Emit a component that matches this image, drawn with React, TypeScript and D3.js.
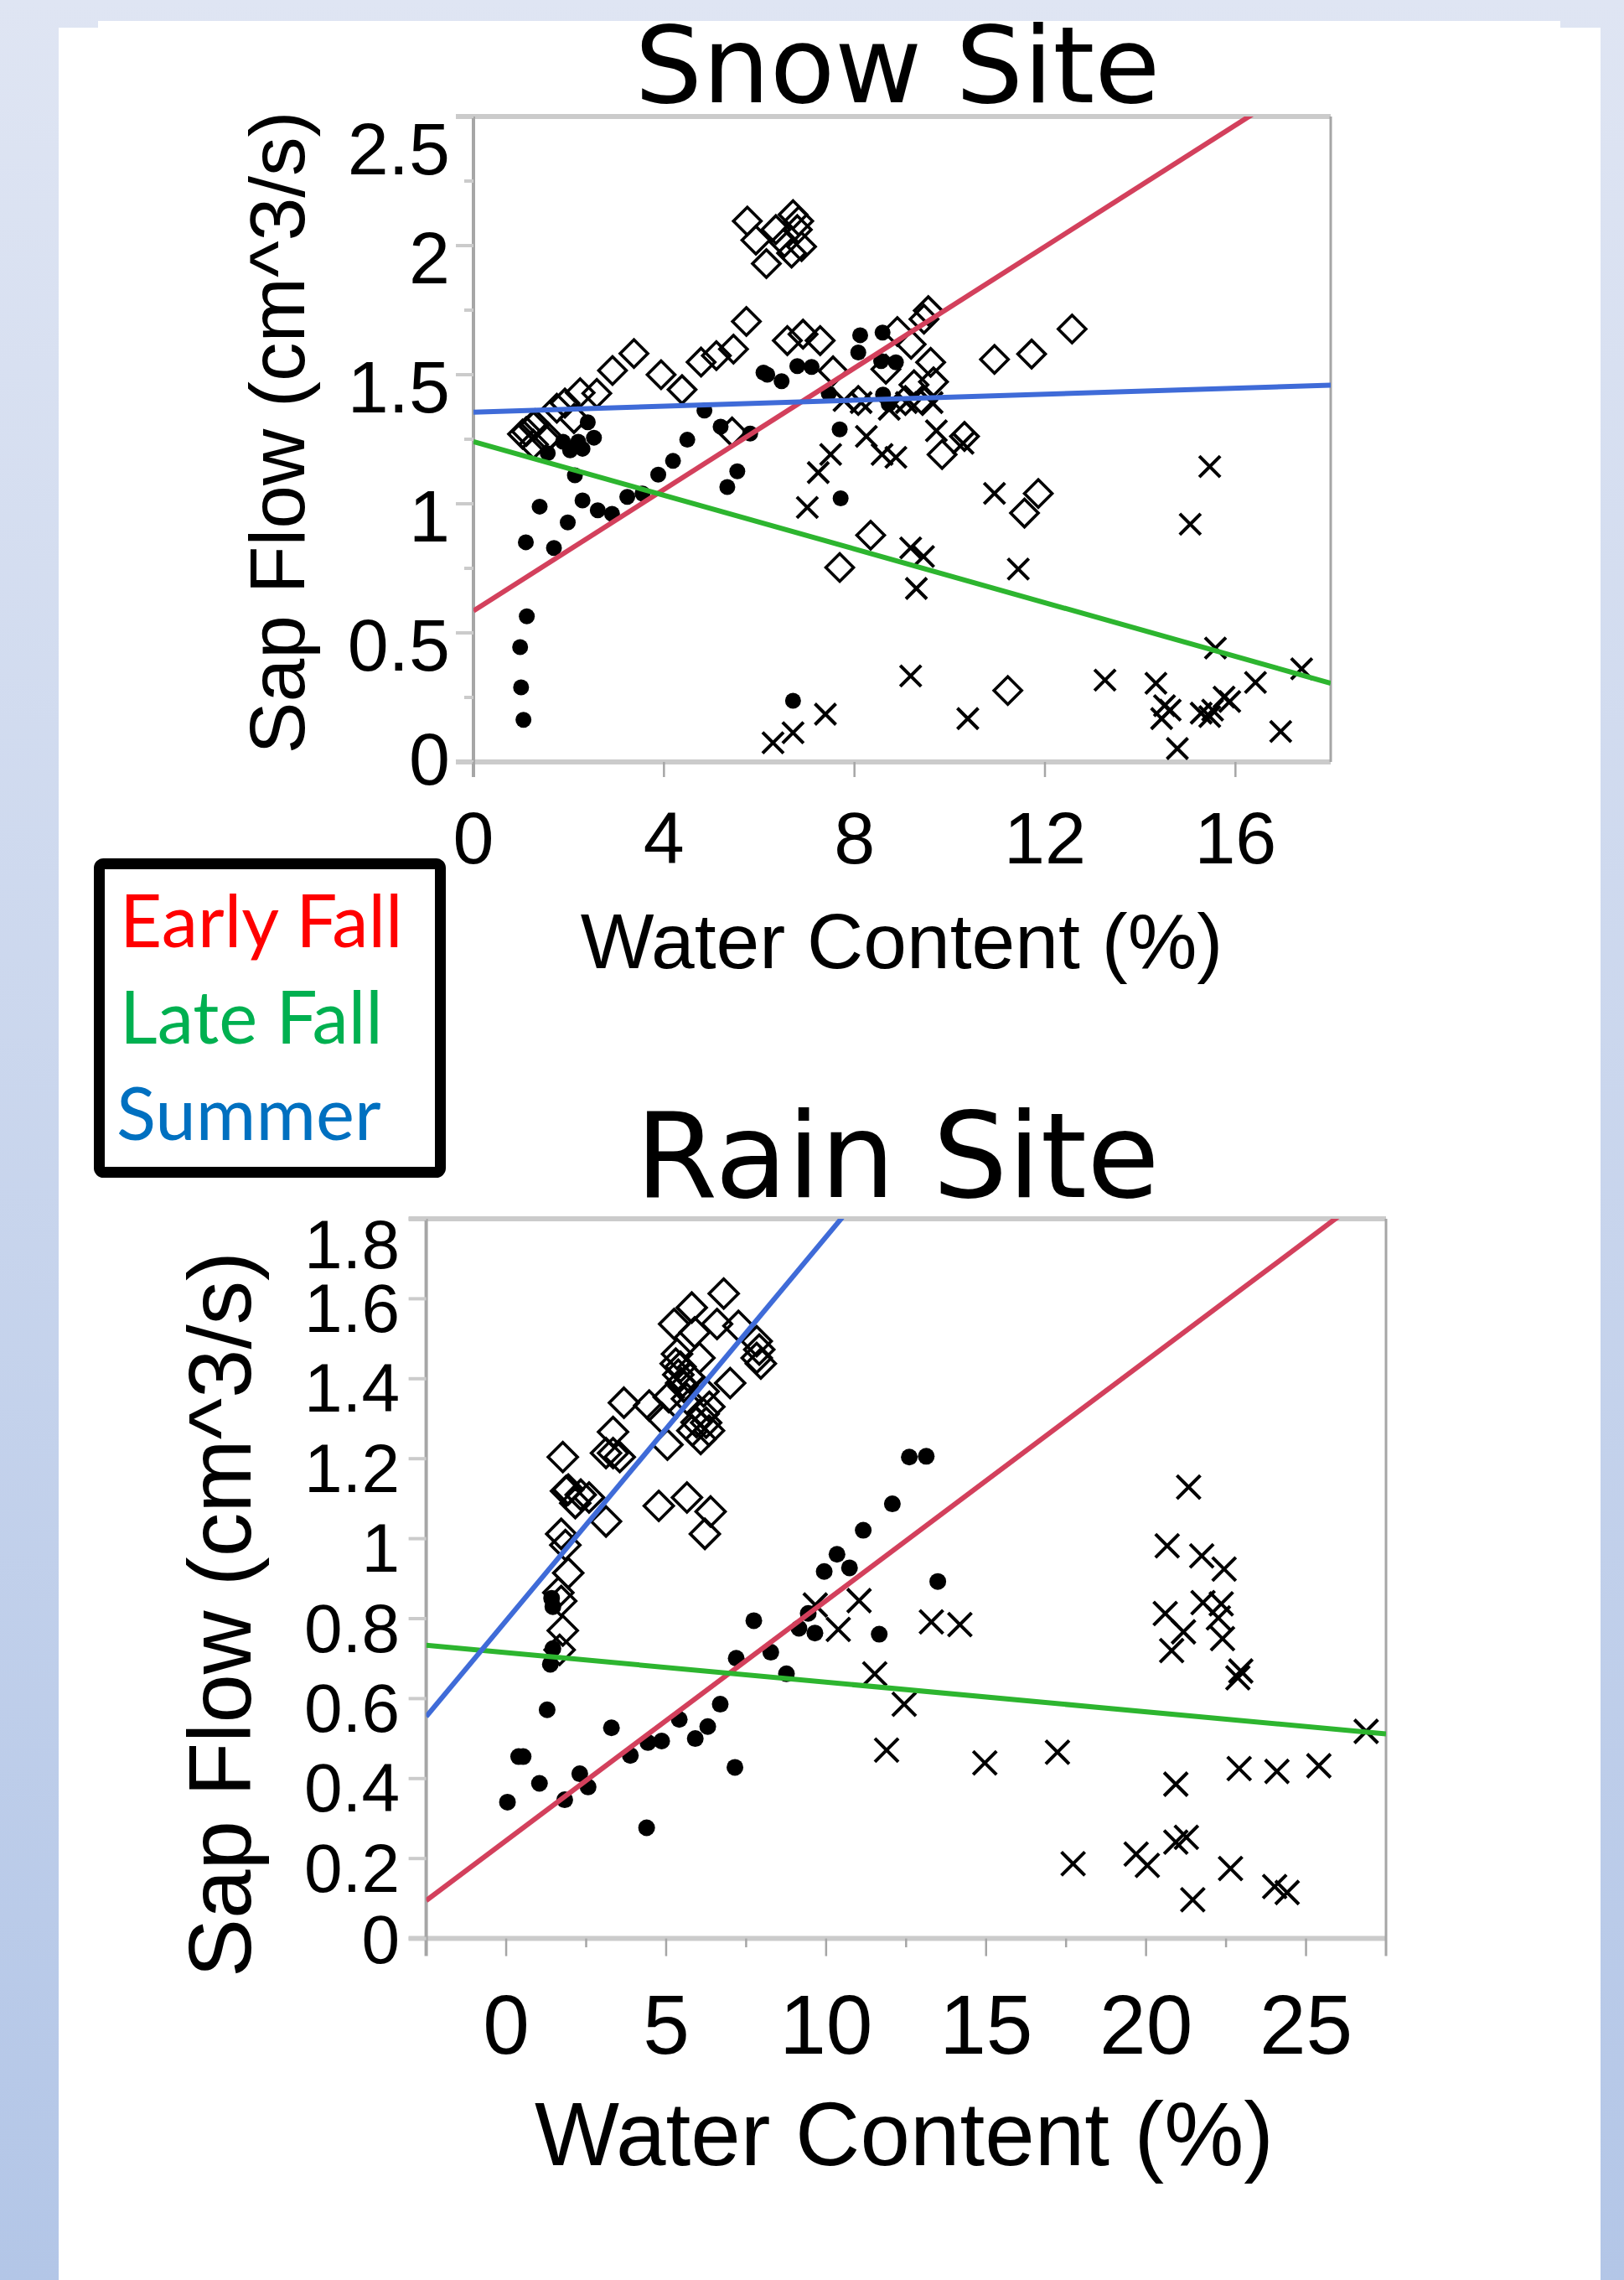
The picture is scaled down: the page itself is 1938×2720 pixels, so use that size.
import React from 'react';
import * as d3 from 'd3';

// Snow Site: [water content (%), sap flow (cm^3/s)]
const snowEarlyFall = [
  [1.05, 0.163], [1.0, 0.289], [0.98, 0.445], [1.12, 0.564], [1.10, 0.851], [1.69, 0.829],
  [1.39, 0.989], [1.98, 0.928], [2.29, 1.013], [2.61, 0.975], [2.91, 0.961], [3.23, 1.027],
  [3.55, 1.040], [3.88, 1.113], [4.19, 1.166], [4.49, 1.248], [4.85, 1.361], [5.19, 1.299],
  [5.54, 1.126], [5.33, 1.065], [5.81, 1.272], [7.69, 1.288], [7.71, 1.021], [7.46, 1.428],
  [2.13, 1.110], [2.40, 1.316], [2.53, 1.256], [2.20, 1.240], [2.03, 1.207], [1.56, 1.196],
  [1.88, 1.240], [2.29, 1.213], [6.09, 1.508], [6.17, 1.50], [6.47, 1.475], [6.80, 1.533],
  [7.10, 1.530], [8.12, 1.653], [8.59, 1.663], [8.08, 1.586], [8.56, 1.553], [8.87, 1.548],
  [8.60, 1.423], [8.72, 1.386], [6.71, 0.237],
];
const snowLateFall = [
  [6.29, 0.074], [6.71, 0.113], [7.39, 0.185], [9.18, 0.333], [10.38, 0.168], [13.26, 0.317],
  [14.33, 0.305], [14.51, 0.218], [14.63, 0.201], [14.45, 0.168], [14.78, 0.052], [15.28, 0.189],
  [15.46, 0.176], [15.52, 0.201], [15.76, 0.251], [15.88, 0.234], [16.42, 0.308], [16.95, 0.118],
  [17.39, 0.361], [15.58, 0.441], [15.05, 0.921], [15.46, 1.144], [11.44, 0.747], [10.94, 1.040],
  [9.18, 0.829], [9.45, 0.796], [9.30, 0.672], [7.01, 0.986], [7.24, 1.121], [7.50, 1.191],
  [8.25, 1.261], [8.58, 1.191], [8.87, 1.180], [9.72, 1.283], [10.28, 1.234], [7.78, 1.400],
  [8.14, 1.392], [8.73, 1.366], [9.09, 1.392], [9.63, 1.392],
];
const snowSummer = [
  [1.03, 1.27], [1.11, 1.28], [1.26, 1.30], [1.29, 1.31], [1.52, 1.25], [1.26, 1.23],
  [1.56, 1.26], [1.75, 1.37], [1.92, 1.39], [2.11, 1.33], [2.24, 1.43], [2.59, 1.428],
  [2.92, 1.516], [3.37, 1.582], [3.94, 1.50], [4.38, 1.442], [4.78, 1.549], [5.10, 1.574],
  [5.46, 1.599], [5.73, 1.706], [5.43, 1.278], [6.59, 1.632], [6.92, 1.657], [7.28, 1.632],
  [7.55, 1.515], [8.08, 1.40], [8.66, 1.521], [8.90, 1.667], [9.19, 1.618], [9.46, 1.715],
  [9.55, 1.748], [9.60, 1.548], [9.66, 1.472], [9.25, 1.461], [9.07, 1.40], [9.43, 1.40],
  [10.94, 1.559], [11.72, 1.580], [12.57, 1.677], [10.31, 1.261], [9.84, 1.191], [11.86, 1.040],
  [11.57, 0.964], [8.34, 0.878], [7.69, 0.753], [11.22, 0.277], [5.75, 2.095], [5.93, 2.021],
  [6.15, 1.930], [6.35, 2.062], [6.53, 2.012], [6.68, 1.971], [6.83, 2.095], [6.89, 1.996],
  [6.71, 2.120], [6.80, 2.062],
];

// Rain Site
const rainEarlyFall = [
  [0.04, 0.341], [0.39, 0.455], [0.53, 0.455], [1.04, 0.388], [1.28, 0.572], [1.38, 0.686],
  [1.46, 0.725], [1.42, 0.851], [1.46, 0.83], [1.83, 0.347], [2.30, 0.412], [2.56, 0.379],
  [3.29, 0.527], [3.88, 0.458], [4.43, 0.490], [4.86, 0.494], [4.39, 0.277], [5.41, 0.548],
  [5.91, 0.500], [6.30, 0.530], [6.69, 0.586], [7.15, 0.428], [7.19, 0.701], [7.74, 0.795],
  [8.27, 0.716], [8.76, 0.662], [9.15, 0.776], [9.65, 0.764], [9.44, 0.813], [9.94, 0.918],
  [10.34, 0.961], [10.73, 0.927], [11.16, 1.021], [11.66, 0.761], [12.07, 1.087], [12.60, 1.204],
  [13.13, 1.206], [13.49, 0.893],
];
const rainLateFall = [
  [9.66, 0.834], [10.38, 0.773], [11.03, 0.845], [11.52, 0.662], [11.89, 0.471], [12.44, 0.586],
  [13.29, 0.792], [14.18, 0.785], [14.96, 0.439], [17.23, 0.466], [17.72, 0.187], [19.69, 0.211],
  [20.04, 0.183], [20.93, 0.386], [20.93, 0.241], [21.26, 0.253], [21.46, 0.097], [22.64, 0.175],
  [22.91, 0.425], [24.09, 0.418], [25.40, 0.432], [24.02, 0.130], [24.41, 0.115], [26.88, 0.518],
  [21.33, 1.129], [20.66, 0.982], [21.74, 0.957], [22.44, 0.924], [21.78, 0.840], [22.35, 0.837],
  [20.60, 0.813], [22.26, 0.802], [21.17, 0.767], [22.39, 0.750], [20.80, 0.720], [22.96, 0.669],
  [22.87, 0.652],
];
const rainSummer = [
  [6.80, 1.613], [5.80, 1.578], [5.25, 1.537], [5.89, 1.516], [6.59, 1.537], [7.26, 1.532],
  [7.83, 1.494], [7.91, 1.473], [7.83, 1.452], [7.96, 1.438], [6.04, 1.452], [5.34, 1.462],
  [5.30, 1.438], [5.38, 1.410], [5.47, 1.389], [5.73, 1.403], [7.00, 1.389], [6.17, 1.368],
  [3.68, 1.340], [4.47, 1.333], [5.08, 1.354], [4.86, 1.302], [5.95, 1.291], [6.17, 1.312],
  [6.34, 1.270], [6.08, 1.249], [5.82, 1.270], [5.04, 1.235], [3.34, 1.267], [3.12, 1.214],
  [3.55, 1.204], [3.34, 1.214], [1.77, 1.204], [1.94, 1.123], [2.33, 1.110], [2.59, 1.103],
  [2.16, 1.089], [3.12, 1.043], [4.77, 1.082], [5.65, 1.103], [6.39, 1.068], [6.21, 1.012],
  [1.72, 1.012], [1.85, 0.984], [1.94, 0.914], [1.63, 0.865], [1.72, 0.844], [1.77, 0.770],
  [1.67, 0.722], [1.87, 1.119], [5.45, 1.43], [5.55, 1.38], [5.65, 1.35], [6.25, 1.29],
  [6.35, 1.33],
];

// fitted lines, y = a + b * x, in order Early Fall, Late Fall, Summer
const snowIntercepts = [0.585, 1.241, 1.355];
const snowSlopes = [0.1176, -0.052, 0.0058];
const rainIntercepts = [0.245, 0.715, 0.795];
const rainSlopes = [0.06, -0.0074, 0.096];

const seasons = ['Early Fall', 'Late Fall', 'Summer'];
const legendColors = ['#ff0000', '#00b050', '#0070c0'];
const fitColors = ['#d3405c', '#2db52f', '#3f6bd8'];

const snowXTicks = [0, 4, 8, 12, 16];
const snowYTicks = [0, 0.5, 1, 1.5, 2, 2.5];
const snowYLabels = ['0', '0.5', '1', '1.5', '2', '2.5'];
const snowYMinor = [0.25, 0.75, 1.25, 1.75, 2.25];
const rainXTicks = [0, 5, 10, 15, 20, 25];
const rainXMinor = [2.5, 7.5, 12.5, 17.5, 22.5];
const rainYTicks = [0, 0.2, 0.4, 0.6, 0.8, 1, 1.2, 1.4, 1.6, 1.8];
const rainYLabels = ['0', '0.2', '0.4', '0.6', '0.8', '1', '1.2', '1.4', '1.6', '1.8'];

const SANS = '"Liberation Sans", Arial, Helvetica, sans-serif';

function Marker({ kind, cx, cy, s }) {
  if (kind === 0) return <circle cx={cx} cy={cy} r={s.dot} fill="#000" />;
  if (kind === 1) {
    const h = s.cross;
    return (
      <path d={`M${cx - h},${cy - h}L${cx + h},${cy + h}M${cx - h},${cy + h}L${cx + h},${cy - h}`}
        stroke="#000" strokeWidth={4} fill="none" />
    );
  }
  const h = s.diamond;
  return (
    <path d={`M${cx},${cy - h}L${cx + h},${cy}L${cx},${cy + h}L${cx - h},${cy}Z`}
      stroke="#000" strokeWidth={3.6} fill="none" />
  );
}

function Panel(p) {
  const xs = d3.scaleLinear().domain(p.xDomain).range([p.left, p.right]);
  const ys = d3.scaleLinear().domain(p.yDomain).range([p.bottom, p.top]);
  const clipId = `clip-${p.id}`;
  const line = d3.line().x((d) => xs(d[0])).y((d) => ys(d[1]));
  const [xa, xb] = p.xDomain;

  return (
    <g>
      <defs>
        <clipPath id={clipId}>
          <rect x={p.left} y={p.top} width={p.right - p.left} height={p.bottom - p.top} />
        </clipPath>
      </defs>
      <text x={p.titleX} y={p.titleY} fontSize={p.titleSize} textAnchor="middle"
        fontFamily='"DejaVu Sans", sans-serif'>{p.title}</text>

      {/* frame */}
      <line x1={p.left - 21} x2={p.right} y1={p.top} y2={p.top} stroke="#cbcbcb" strokeWidth={6} />
      <line x1={p.left - 21} x2={p.right} y1={p.bottom} y2={p.bottom} stroke="#cbcbcb" strokeWidth={6} />
      <line x1={p.left} x2={p.left} y1={p.top} y2={p.bottom + p.tickLen} stroke="#a6a6a6" strokeWidth={4} />
      <line x1={p.right} x2={p.right} y1={p.top} y2={p.bottom + p.rightTick} stroke="#a6a6a6" strokeWidth={3} />

      {p.yTicks.map((v) => (
        <line key={'yt' + v} x1={p.left - 21} x2={p.left} y1={ys(v)} y2={ys(v)} stroke="#cbcbcb" strokeWidth={4} />
      ))}
      {p.yMinor.map((v) => (
        <line key={'ym' + v} x1={p.left - 11} x2={p.left} y1={ys(v)} y2={ys(v)} stroke="#cbcbcb" strokeWidth={4} />
      ))}
      {p.xTicks.map((v) => (
        <line key={'xt' + v} x1={xs(v)} x2={xs(v)} y1={p.bottom} y2={p.bottom + p.tickLen} stroke="#a6a6a6" strokeWidth={2.5} />
      ))}
      {p.xMinor.map((v) => (
        <line key={'xm' + v} x1={xs(v)} x2={xs(v)} y1={p.bottom} y2={p.bottom + p.tickLen / 2} stroke="#a6a6a6" strokeWidth={2.5} />
      ))}

      {/* tick labels */}
      <g fontFamily={SANS} fontSize={p.yTickSize} textAnchor="end">
        {p.yTicks.map((v, i) => {
          const c = Math.max(p.top + p.labTopPad, Math.min(p.bottom - p.labBotPad, ys(v) + p.labShift));
          return <text key={'yl' + v} x={p.yLabelRight} y={c} dy="0.36em">{p.yLabels[i]}</text>;
        })}
      </g>
      <g fontFamily={SANS} fontSize={p.xTickSize} textAnchor="middle">
        {p.xTicks.map((v) => (
          <text key={'xl' + v} x={xs(v)} y={p.xTickBase}>{v}</text>
        ))}
      </g>

      <text x={p.xTitleX} y={p.xTitleY} fontSize={p.xTitleSize} textAnchor="middle" fontFamily={SANS}>
        Water Content (%)
      </text>
      <text transform={`translate(${p.yTitleX},${p.yTitleY}) rotate(-90)`} fontSize={p.yTitleSize}
        textAnchor="middle" fontFamily={SANS}>
        Sap Flow (cm^3/s)
      </text>

      {/* points */}
      {p.series.map((pts, k) => (
        <g key={'s' + k}>
          {pts.map((d, i) => (
            <Marker key={i} kind={k} cx={xs(d[0])} cy={ys(d[1])} s={p.marker} />
          ))}
        </g>
      ))}

      {/* fit lines */}
      <g clipPath={`url(#${clipId})`}>
        {p.intercepts.map((a, k) => (
          <path key={'f' + k} d={line([[xa, a + p.slopes[k] * xa], [xb, a + p.slopes[k] * xb]])}
            stroke={fitColors[k]} strokeWidth={6} fill="none" />
        ))}
      </g>
    </g>
  );
}

function Legend() {
  const base = [1130, 1245, 1360];
  const xStart = [143, 143, 139];
  return (
    <g>
      <rect x={118.5} y={1030.5} width={407} height={368} rx={5} fill="#fff" stroke="#000" strokeWidth={13} />
      {seasons.map((s, i) => (
        <text key={s} x={xStart[i]} y={base[i]} fill={legendColors[i]} fontSize={87}
          fontFamily='Lato, "Open Sans", sans-serif'>{s}</text>
      ))}
    </g>
  );
}

export default function App() {
  return (
    <svg width={1938} height={2720} style={{ position: 'absolute', left: 0, top: 0, display: 'block' }}>
      <defs>
        <linearGradient id="bg" x1="0" y1="0" x2="0" y2="1">
          <stop offset="0" stopColor="#dfe5f3" />
          <stop offset="1" stopColor="#b3c6e7" />
        </linearGradient>
      </defs>
      <rect x={0} y={0} width={1938} height={2720} fill="url(#bg)" />
      <rect x={117} y={25} width={1745} height={20} fill="#fff" />
      <rect x={70} y={33} width={1840} height={2687} fill="#fff" />

      <Panel id="snow" title="Snow Site" titleX={1071} titleY={122} titleSize={127}
        left={565} right={1588} top={139} bottom={909} xDomain={[0, 18]} yDomain={[0, 2.5]}
        xTicks={snowXTicks} xMinor={[]} yTicks={snowYTicks} yLabels={snowYLabels} yMinor={snowYMinor}
        tickLen={18} rightTick={0} yTickSize={88} yLabelRight={537} labShift={13} labTopPad={37} labBotPad={5}
        xTickSize={88} xTickBase={1030} xTitleX={1076} xTitleY={1155} xTitleSize={93}
        yTitleX={363} yTitleY={516} yTitleSize={93}
        series={[snowEarlyFall, snowLateFall, snowSummer]}
        intercepts={snowIntercepts} slopes={snowSlopes}
        marker={{ dot: 9.5, cross: 12.5, diamond: 16.5 }} />

      <Panel id="rain" title="Rain Site" titleX={1071} titleY={1428} titleSize={141}
        left={508.6} right={1654} top={1454} bottom={2312.6} xDomain={[-2.5, 27.5]} yDomain={[0, 1.8]}
        xTicks={rainXTicks} xMinor={rainXMinor} yTicks={rainYTicks} yLabels={rainYLabels} yMinor={[]}
        tickLen={21} rightTick={21} yTickSize={82} yLabelRight={477} labShift={10} labTopPad={29} labBotPad={0}
        xTickSize={100} xTickBase={2450} xTitleX={1079} xTitleY={2583} xTitleSize={107}
        yTitleX={299} yTitleY={1926} yTitleSize={105}
        series={[rainEarlyFall, rainLateFall, rainSummer]}
        intercepts={rainIntercepts} slopes={rainSlopes}
        marker={{ dot: 10, cross: 14, diamond: 17.5 }} />

      <Legend />
    </svg>
  );
}
